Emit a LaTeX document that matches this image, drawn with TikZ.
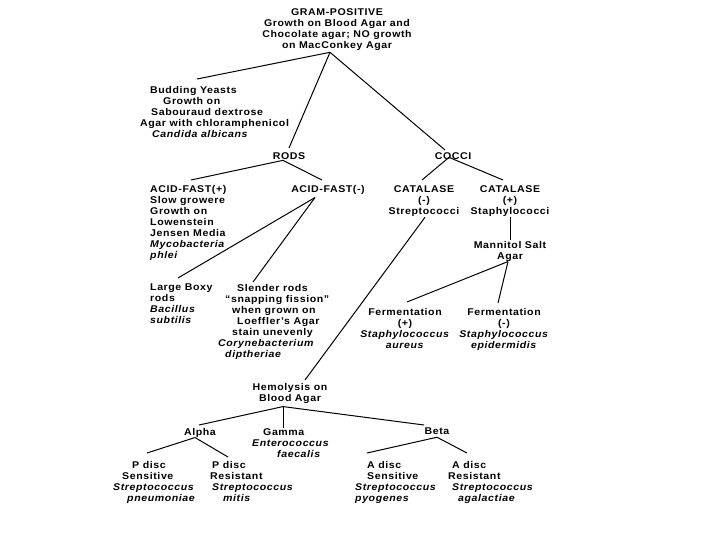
\documentclass[tikz,border=0pt]{standalone}
\usepackage{fontspec}
\setmainfont[FakeStretch=1.08,LetterSpace=6]{Liberation Sans}
\begin{document}
\begin{tikzpicture}[x=1pt,y=-1pt,
  every node/.style={inner sep=0pt, font=\fontsize{9.8}{11}\selectfont\bfseries},
  ctr/.style={align=center, anchor=north},
  lft/.style={align=left, anchor=north west},
  conn/.style={line width=1pt}]
\useasboundingbox[fill=white] (0,0) rectangle (720,540);

\node[ctr] (gp) at (337,8) {GRAM-POSITIVE\\Growth on Blood Agar and\\Chocolate agar; NO growth\\on MacConkey Agar};
\node[lft] (yeast) at (140,86) {\hspace*{10pt}Budding Yeasts\\\hspace*{23pt}Growth on\\\hspace*{11pt}Sabouraud dextrose\\Agar with chloramphenicol\\\hspace*{12pt}\textit{Candida albicans}};
\node[ctr] (rods) at (289,152) {RODS};
\node[ctr] (cocci) at (453,152) {COCCI};
\node[lft] (afp) at (150,185) {ACID-FAST(+)\\Slow growere\\Growth on\\Lowenstein\\Jensen Media\\\textit{Mycobacteria}\\\textit{phlei}};
\node[ctr] (afn) at (328,185) {ACID-FAST(-)};
\node[ctr] (catn) at (424,185) {CATALASE\\(-)\\Streptococci};
\node[ctr] (catp) at (510,185) {CATALASE\\(+)\\Staphylococci};
\node[ctr] (mann) at (510,241) {Mannitol Salt\\Agar};
\node[lft] (boxy) at (150,284) {Large Boxy\\rods\\\textit{Bacillus}\\\textit{subtilis}};
\node[lft] (slender) at (218,284) {\hspace*{19pt}Slender rods\\\hspace*{7pt}“snapping fission”\\\hspace*{14pt}when grown on\\\hspace*{19pt}Loeffler’s Agar\\\hspace*{14pt}stain unevenly\\\textit{Corynebacterium}\\\hspace*{7pt}\textit{diptheriae}};
\node[ctr] (fp) at (405,308) {Fermentation\\(+)\\\textit{Staphylococcus}\\\textit{aureus}};
\node[ctr] (fn) at (504,308) {Fermentation\\(-)\\\textit{Staphylococcus}\\\textit{epidermidis}};
\node[ctr] (hemo) at (290,383) {Hemolysis on\\Blood Agar};
\node[ctr] (alpha) at (200,428) {Alpha};
\node[lft] (gamma) at (252,428) {\hspace*{11pt}Gamma\\\textit{Enterococcus}\\\hspace*{25pt}\textit{faecalis}};
\node[ctr] (beta) at (437,428) {Beta};
\node[lft] (pds) at (113,461) {\hspace*{19pt}P disc\\\hspace*{9pt}Sensitive\\\textit{Streptococcus}\\\hspace*{14pt}\textit{pneumoniae}};
\node[lft] (pdr) at (210,461) {\hspace*{2pt}P disc\\Resistant\\\hspace*{2pt}\textit{Streptococcus}\\\hspace*{13pt}\textit{mitis}};
\node[lft] (ads) at (355,461) {\hspace*{12pt}A disc\\\hspace*{12pt}Sensitive\\\textit{Streptococcus}\\\textit{pyogenes}};
\node[lft] (adr) at (448,461) {\hspace*{4pt}A disc\\Resistant\\\hspace*{4pt}\textit{Streptococcus}\\\hspace*{10pt}\textit{agalactiae}};

\coordinate (apex) at ([shift={(-7,2)}]gp.south);
\draw[conn] (apex) -- ([shift={(57,-7)}]yeast.north west);
\draw[conn] (apex) -- ([shift={(0,-4)}]rods.north);
\draw[conn] (apex) -- ([shift={(-8,-2)}]cocci.north);

\coordinate (jr) at ([shift={(-6,1)}]rods.south);
\draw[conn] (jr) -- ([shift={(41,-5)}]afp.north west);
\draw[conn] (jr) -- ([shift={(-6,-5)}]afn.north);

\coordinate (jc) at ([shift={(-4,-2)}]cocci.south);
\draw[conn] (jc) -- ([shift={(-2,-5)}]catn.north);
\draw[conn] (jc) -- ([shift={(-7,-5)}]catp.north);

\coordinate (ja) at ([shift={(-13,3)}]afn.south);
\draw[conn] (ja) -- ([shift={(28,-6)}]boxy.north west);
\draw[conn] (ja) -- ([shift={(35,-2)}]slender.north west);

\draw[conn] ([shift={(1,1)}]catn.south) -- ([shift={(15,-3)}]hemo.north);
\draw[conn] ([shift={(0,1)}]catp.south) -- ([shift={(0,-1)}]mann.north);

\coordinate (jm) at ([shift={(-2,0)}]mann.south);
\draw[conn] (jm) -- ([shift={(2,-6)}]fp.north);
\draw[conn] (jm) -- ([shift={(-6,-5)}]fn.north);

\coordinate (jh) at ([shift={(-7,3)}]hemo.south);
\draw[conn] (jh) -- ([shift={(-1,-3)}]alpha.north);
\draw[conn] (jh) -- (jh |- gamma.north);
\draw[conn] (jh) -- ([shift={(-13,-3)}]beta.north);

\coordinate (jal) at ([shift={(-5,0)}]alpha.south);
\draw[conn] (jal) -- ([shift={(34,-8)}]pds.north west);
\draw[conn] (jal) -- ([shift={(18,-4)}]pdr.north west);

\coordinate (jb) at ([shift={(0,2)}]beta.south);
\draw[conn] (jb) -- ([shift={(12,-8)}]ads.north west);
\draw[conn] (jb) -- ([shift={(19,-8)}]adr.north west);
\end{tikzpicture}
\end{document}
